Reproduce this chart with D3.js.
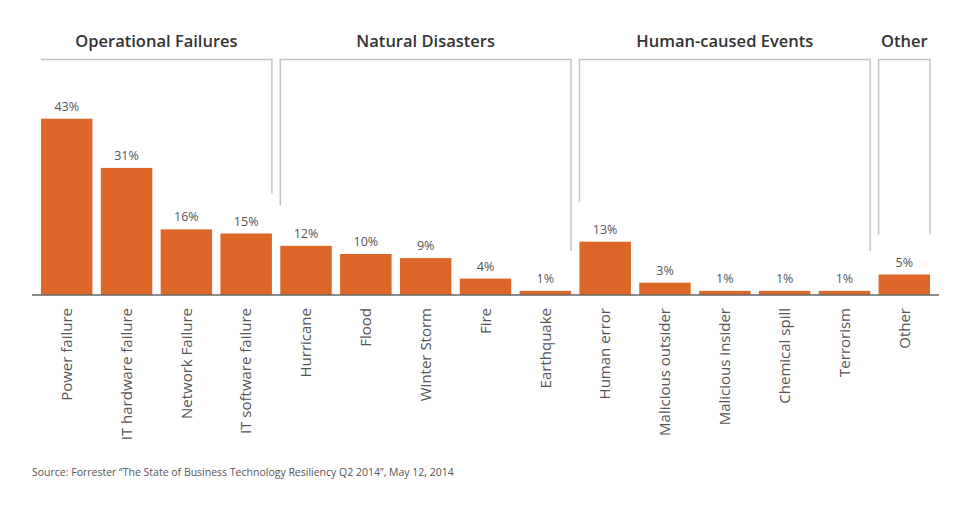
<!DOCTYPE html>
<html>
<head>
<meta charset="utf-8">
<script src="https://cdn.jsdelivr.net/npm/d3@7"></script>
<style>
  body { margin: 0; background: #fff; }
  text { font-family: "Open Sans", sans-serif; }
</style>
</head>
<body>
<div id="chart"></div>
<script>
var width = 971, height = 513;

// data
var categories = ["Power failure", "IT hardware failure", "Network Failure", "IT software failure",
  "Hurricane", "Flood", "Winter Storm", "Fire", "Earthquake",
  "Human error", "Malicious outsider", "Malicious insider", "Chemical spill", "Terrorism",
  "Other"];
var values = [43, 31, 16, 15, 12, 10, 9, 4, 1, 13, 3, 1, 1, 1, 5];
var groupNames = ["Operational Failures", "Natural Disasters", "Human-caused Events", "Other"];
var groupStart = [0, 4, 9, 14];
var groupEnd = [3, 8, 13, 14];
var source = "Source: Forrester \u201cThe State of Business Technology Resiliency Q2 2014\u201d, May 12, 2014";

var svg = d3.select("#chart")
  .append("svg")
  .attr("width", width)
  .attr("height", height);

var x = d3.scaleBand()
  .domain(categories)
  .range([32, 939])
  .paddingInner(0.14)
  .paddingOuter(0.15);

var y = d3.scaleLinear()
  .domain([0, 50])
  .range([295, 90]);

// bars
svg.selectAll("rect.bar")
  .data(values)
  .enter().append("rect")
  .attr("class", "bar")
  .attr("x", function (d, i) { return x(categories[i]); })
  .attr("y", function (d) { return y(d); })
  .attr("width", x.bandwidth())
  .attr("height", function (d) { return y(0) - y(d); })
  .attr("fill", "#dd6629");

// value labels
svg.selectAll("text.val")
  .data(values)
  .enter().append("text")
  .attr("class", "val")
  .attr("x", function (d, i) { return x(categories[i]) + x.bandwidth() / 2; })
  .attr("y", function (d) { return y(d) - 8; })
  .attr("text-anchor", "middle")
  .style("font-size", "12.5px")
  .attr("fill", "#555")
  .text(function (d) { return d + "%"; });

// baseline axis
var xAxis = svg.append("g")
  .attr("transform", "translate(0," + y(0) + ")")
  .call(d3.axisBottom(x).tickSize(0).tickSizeOuter(0));
xAxis.select(".domain")
  .attr("stroke", "#666")
  .attr("stroke-width", 1.5)
  .attr("d", "M32,0H939");
xAxis.selectAll(".tick text")
  .attr("transform", "rotate(-90)")
  .attr("text-anchor", "end")
  .attr("x", -13)
  .attr("y", 0)
  .attr("dy", "0.35em")
  .style("font-size", "15px")
  .style("font-family", "'Open Sans', sans-serif")
  .attr("fill", "#555");

// group brackets (first group has no left leg, the tall bar sits under it)
var bracketY = 59.5;
groupNames.forEach(function (name, g) {
  var i0 = groupStart[g], i1 = groupEnd[g];
  var x0 = x(categories[i0]), x1 = x(categories[i1]) + x.bandwidth();
  var yl = g == 0 ? bracketY : y(values[i0]) - 40;
  var yr = y(values[i1]) - 40;
  var path = "M" + x0 + "," + Math.max(yl, bracketY) + "V" + bracketY + "H" + x1 + "V" + Math.max(yr, bracketY);
  svg.append("path")
    .attr("d", path)
    .attr("fill", "none")
    .attr("stroke", "#c4c4c4")
    .attr("stroke-width", 1.5);
  svg.append("text")
    .attr("x", (x0 + x1) / 2)
    .attr("y", 47)
    .attr("text-anchor", "middle")
    .style("font-size", "16.5px")
    .style("font-weight", "600")
    .attr("fill", "#333")
    .text(name);
});

svg.append("text")
  .attr("x", 32)
  .attr("y", 476)
  .style("font-size", "10.5px")
  .attr("fill", "#555")
  .text(source);
</script>
</body>
</html>
